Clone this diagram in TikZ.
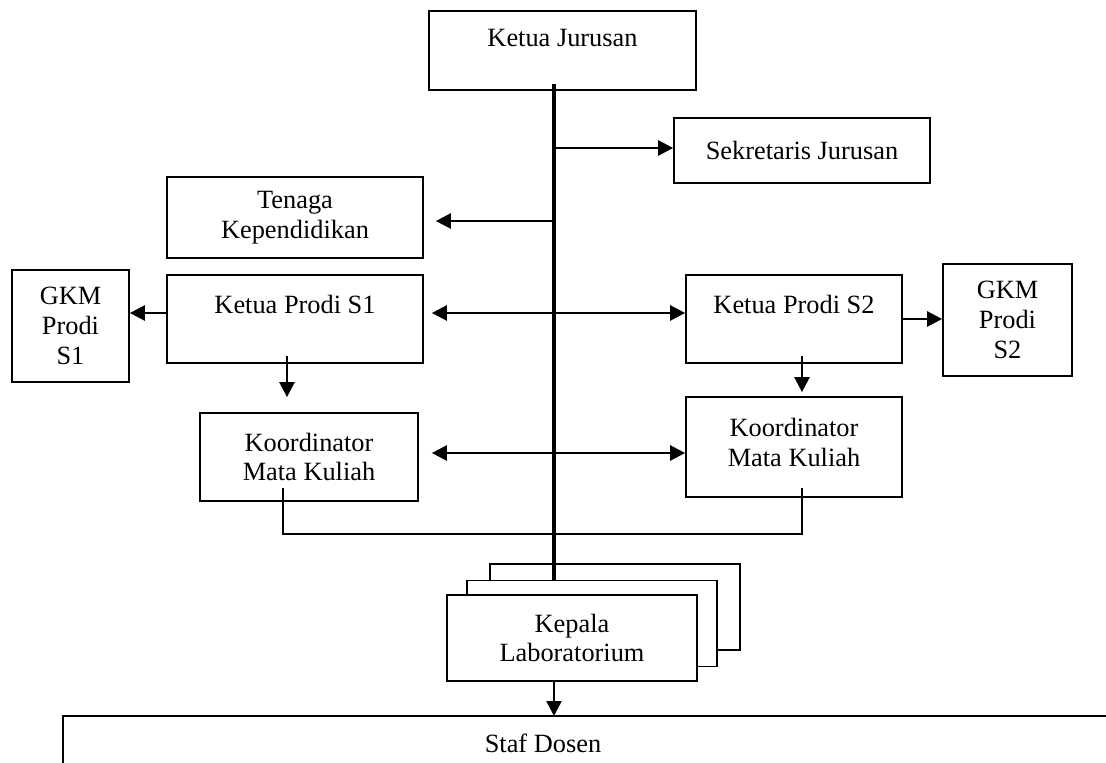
\documentclass[tikz,border=0pt]{standalone}
\usepackage{fontspec}
\setmainfont{Liberation Serif}
\usetikzlibrary{arrows.meta,calc}

\begin{document}
\begin{tikzpicture}[
    x=0.02cm, y=-0.02cm,
    font=\fontsize{15}{17}\selectfont,
    box/.style={rectangle, draw, line width=1pt, align=center, fill=white},
    arr/.style={line width=1.4pt, -{Triangle[length=0.3cm,width=0.3cm]}},
    biarr/.style={line width=1.4pt, {Triangle[length=0.3cm,width=0.3cm]}-{Triangle[length=0.3cm,width=0.3cm]}},
    spine/.style={line width=2.7pt},
    link/.style={line width=0.9pt},
]
    \useasboundingbox (0,0) rectangle (1106,763);
    \clip (0,0) rectangle (1106,763);

    % Pimpinan jurusan
    \node[box, minimum width=5.34cm, minimum height=1.58cm] (kajur) at (562.5,50.5) {Ketua Jurusan\\[-3pt]~};
    \node[box, minimum width=5.12cm, minimum height=1.30cm] (sekjur) at (802,150.5) {Sekretaris Jurusan};
    \node[box, minimum width=5.12cm, minimum height=1.62cm] (tendik) at (295,217.5) {Tenaga\\Kependidikan};

    % Prodi S1
    \node[box, minimum width=5.12cm, minimum height=1.76cm] (kps1) at (295,319) {Ketua Prodi S1\\~};
    \node[box, minimum width=2.34cm, minimum height=2.24cm] (gkm1) at (70.5,326) {GKM\\Prodi\\S1};
    \node[box, minimum width=4.36cm, minimum height=1.76cm] (kmk1) at (309,457) {Koordinator\\Mata Kuliah};

    % Prodi S2
    \node[box, minimum width=4.32cm, minimum height=1.76cm] (kps2) at (794,319) {Ketua Prodi S2\\~};
    \node[box, minimum width=2.58cm, minimum height=2.24cm] (gkm2) at (1007.5,320) {GKM\\Prodi\\S2};
    \node[box, minimum width=4.32cm, minimum height=2.0cm] (kmk2) at (794,447) {Koordinator\\Mata Kuliah\\[-12pt]~};

    % Laboratorium (bertumpuk)
    \node[box, minimum width=5cm, minimum height=1.72cm] (lab3) at (615,607) {};
    \node[box, minimum width=5cm, minimum height=1.72cm] (lab2) at (592,623.5) {};
    \node[box, minimum width=5cm, minimum height=1.72cm] (lab1) at (572,638) {Kepala\\Laboratorium};

    % Staf Dosen
    \draw[line width=1pt] (63,800) |- (1130,716);
    \node (staf) at (543,743) {Staf Dosen};

    % Garis komando utama
    \coordinate (top) at (554,84);
    \coordinate (jsek) at (554,148);
    \coordinate (jtendik) at (554,221);
    \coordinate (jprodi) at (554,313);
    \coordinate (jkoor) at (554,453);
    \coordinate (jlink) at (554,534);
    \coordinate (sdtop) at (554,716);
    \draw[spine] (top) -- (top |- lab2.north);

    % Cabang
    \draw[arr] (jsek) -- (jsek -| sekjur.west);
    \draw[arr, shorten >=0.24cm] (jtendik) -- (jtendik -| tendik.east);
    \draw[biarr, shorten <=0.16cm] (jprodi -| kps1.east) -- (jprodi -| kps2.west);
    \draw[biarr, shorten <=0.26cm] (jkoor -| kmk1.east) -- (jkoor -| kmk2.west);
    \draw[arr] (jprodi -| kps1.west) -- (jprodi -| gkm1.east);
    \draw[arr] (kps2.east) -- (kps2.east -| gkm2.west);
    \draw[arr] ($(kps1.south)+(-8,-8)$) -- ($(kmk1.north)+(-22,-15)$);
    \draw[arr] ($(kps2.south)+(8,-8)$) -- ($(kmk2.north)+(8,-4)$);
    \draw[link] ($(kmk1.south)+(-26,-14)$) |- (jlink) -| ($(kmk2.south)+(8,-10)$);
    \draw[arr] (lab1.south -| sdtop) -- (sdtop);
\end{tikzpicture}
\end{document}
